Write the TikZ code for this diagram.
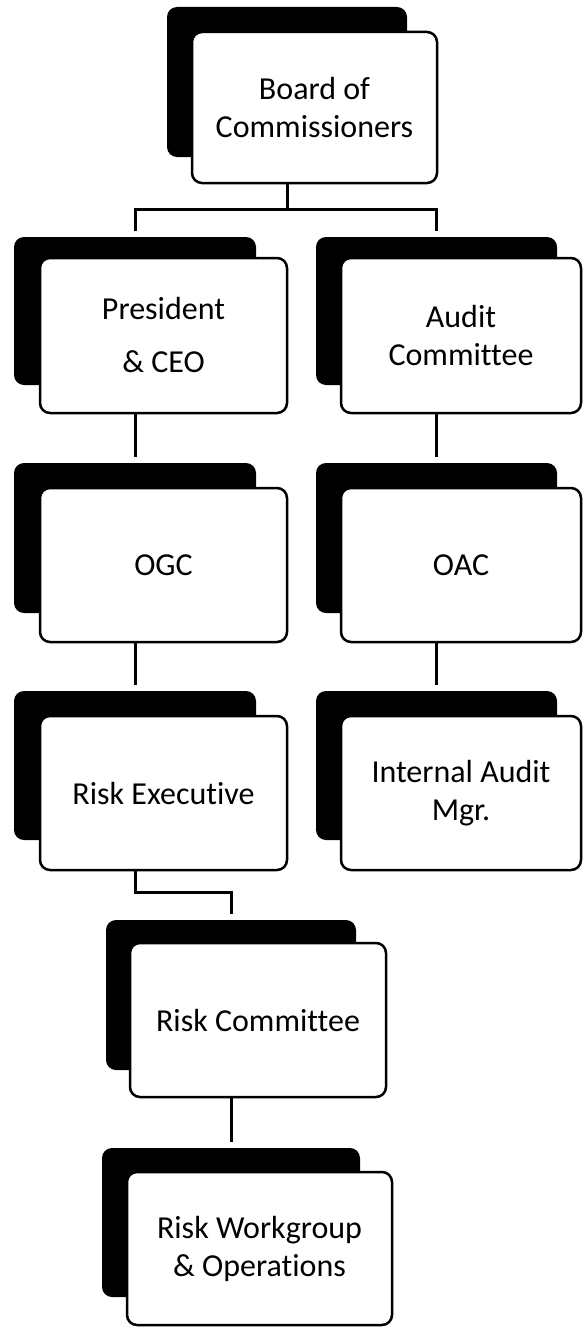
\documentclass[tikz,border=0pt]{standalone}
\usepackage{fontspec}
\setmainfont{Carlito}[Ligatures=NoCommon]

\tikzset{
    backbox/.style={fill=black, rounded corners=10pt, inner sep=0pt},
    frontbox/.style={draw=black, line width=2.5pt, fill=white, rounded corners=10pt,
        inner sep=0pt, align=center, font=\fontsize{32}{38}\selectfont},
    link/.style={line width=3pt, shorten >=6pt}
}

\begin{document}
\begin{tikzpicture}[x=1pt, y=-1pt]
    \useasboundingbox (0,0) rectangle (583,1327);

    % board
    \node[backbox, minimum width=240pt, minimum height=150pt] (board-sh) at (287,82) {};
    \node[frontbox, minimum width=245pt, minimum height=151pt] (board) at (314.5,107.5) {Board of\\Commissioners};

    % left column
    \node[backbox, minimum width=242pt, minimum height=148pt] (pres-sh) at (135,311) {};
    \node[frontbox, minimum width=247pt, minimum height=155pt] (pres) at (163.5,335.5) {President\\[15pt]\& CEO};

    \node[backbox, minimum width=242pt, minimum height=150pt] (ogc-sh) at (135,538) {};
    \node[frontbox, minimum width=247pt, minimum height=154pt] (ogc) at (163.5,565) {OGC};

    \node[backbox, minimum width=242pt, minimum height=149pt] (riskexec-sh) at (135,765.5) {};
    \node[frontbox, minimum width=247pt, minimum height=154pt] (riskexec) at (163.5,793) {Risk Executive};

    % right column
    \node[backbox, minimum width=241pt, minimum height=148pt] (audit-sh) at (436.5,311) {};
    \node[frontbox, minimum width=240pt, minimum height=155pt] (audit) at (461,335.5) {Audit\\Committee};

    \node[backbox, minimum width=241pt, minimum height=150pt] (oac-sh) at (436.5,538) {};
    \node[frontbox, minimum width=240pt, minimum height=154pt] (oac) at (461,565) {OAC};

    \node[backbox, minimum width=241pt, minimum height=149pt] (iam-sh) at (436.5,765.5) {};
    \node[frontbox, minimum width=240pt, minimum height=154pt] (iam) at (461,793) {Internal Audit\\Mgr.};

    % risk chain
    \node[backbox, minimum width=250pt, minimum height=150pt] (riskcom-sh) at (231,995) {};
    \node[frontbox, minimum width=256pt, minimum height=154pt] (riskcom) at (258,1020) {Risk Committee};

    \node[backbox, minimum width=258pt, minimum height=149pt] (riskwg-sh) at (231,1222.5) {};
    \node[frontbox, minimum width=265pt, minimum height=153pt] (riskwg) at (259.5,1248.5) {Risk Workgroup\\\& Operations};

    % lines
    \draw[link] (board-sh.center |- board.south) -- ++(0,25) -| (pres-sh.north);
    \draw[link] (board-sh.center |- board.south) -- ++(0,25) -| (audit-sh.north);
    \draw[link] (pres-sh.center |- pres.south) -- (ogc-sh.north);
    \draw[link] (audit-sh.center |- audit.south) -- (oac-sh.north);
    \draw[link] (ogc-sh.center |- ogc.south) -- (riskexec-sh.north);
    \draw[link] (oac-sh.center |- oac.south) -- (iam-sh.north);
    \draw[link] (riskexec-sh.center |- riskexec.south) -- ++(0,21) -| (riskcom-sh.north);
    \draw[link] (riskcom-sh.center |- riskcom.south) -- (riskwg-sh.north);

\end{tikzpicture}
\end{document}
